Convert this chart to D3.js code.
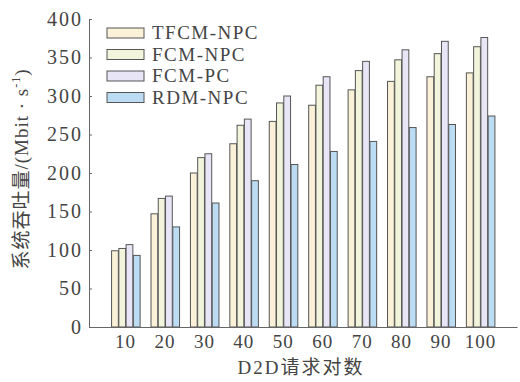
<!DOCTYPE html>
<html lang="zh">
<head>
<meta charset="UTF-8">
<title>系统吞吐量</title>
<style>
  body { margin: 0; background: #fff; }
  svg { display: block; }
  text { font-family: "Liberation Serif", "Noto Sans CJK SC", serif; fill: #444; }
  .cjk { font-family: "Noto Sans CJK SC", sans-serif; }
  .lat { font-family: "Liberation Serif", serif; }
</style>
</head>
<body>
<div id="chart"></div>
<script src="https://d3js.org/d3.v7.min.js"></script>
<script>
// data
const pairs = ["10", "20", "30", "40", "50", "60", "70", "80", "90", "100"];
const seriesNames = ["TFCM-NPC", "FCM-NPC", "FCM-PC", "RDM-NPC"];
const tfcmNpc = [99, 147, 200, 238, 267, 288, 308, 319, 325, 330];
const fcmNpc  = [102, 167, 220, 262, 291, 314, 333, 347, 355, 364];
const fcmPc   = [107, 170, 225, 270, 300, 325, 345, 360, 371, 376];
const rdmNpc  = [93, 130, 161, 190, 211, 228, 241, 259, 263, 274];
const yTicks = [0, 50, 100, 150, 200, 250, 300, 350, 400];

const colors = ["#fbf1d8", "#f2f5dc", "#e8e6f6", "#bcdcf4"];
const allSeries = [tfcmNpc, fcmNpc, fcmPc, rdmNpc];

const width = 520, height = 382;
const svg = d3.select("#chart").append("svg")
    .attr("width", width)
    .attr("height", height);

const x = d3.scaleBand().domain(pairs).range([89, 517])
    .paddingInner(0.263).paddingOuter(0.56);
const xs = d3.scaleBand().domain(d3.range(4)).range([0, x.bandwidth()]);
const y = d3.scaleLinear().domain([0, 400]).range([327, 19]);

// bars
const groups = svg.append("g").selectAll("g")
    .data(pairs)
    .enter().append("g")
    .attr("transform", d => `translate(${x(d)},0)`);

groups.selectAll("rect")
    .data((d, i) => allSeries.map((s, k) => ({k: k, v: s[i]})))
    .enter().append("rect")
    .attr("x", d => xs(d.k) + 0.5)
    .attr("y", d => y(d.v))
    .attr("width", xs.bandwidth() - 0.5)
    .attr("height", d => y(0) - y(d.v))
    .style("fill", d => colors[d.k])
    .style("stroke", "#555")
    .style("stroke-width", 1);

// y axis
const yAxis = d3.axisLeft(y).tickValues(yTicks).tickSize(-3).tickPadding(6);
const gy = svg.append("g").attr("transform", "translate(89,0)").call(yAxis);
gy.select(".domain").attr("stroke", "#666");
gy.selectAll(".tick line").attr("stroke", "#666");
gy.selectAll(".tick text")
    .style("font-size", "20px")
    .style("letter-spacing", "2px")
    .attr("fill", "#444");

// x axis
const xAxis = d3.axisBottom(x).tickSize(0).tickPadding(8);
const gx = svg.append("g").attr("transform", "translate(0,327)").call(xAxis);
gx.select(".domain").attr("stroke", "#666");
gx.selectAll(".tick text")
    .style("font-size", "19px")
    .style("letter-spacing", "1px")
    .attr("fill", "#444");

// axis titles (latin parts kept in the serif face)
svg.append("text")
    .attr("x", 301).attr("y", 374)
    .attr("text-anchor", "middle")
    .style("font-size", "19px")
    .style("letter-spacing", "2px")
    .html("<tspan class='lat'>D2D</tspan><tspan class='cjk'>请求对数</tspan>");

svg.append("text")
    .attr("transform", "translate(28,169) rotate(-90)")
    .attr("text-anchor", "middle")
    .style("font-size", "19px")
    .style("letter-spacing", "1px")
    .html("<tspan class='cjk'>系统吞吐量</tspan><tspan class='lat'>/(Mbit · s</tspan>" +
          "<tspan class='lat' dy='-8' font-size='12px'>-1</tspan><tspan class='lat' dy='8'>)</tspan>");

// legend
const legend = svg.append("g").selectAll("g")
    .data(seriesNames)
    .enter().append("g")
    .attr("transform", (d, i) => `translate(107,${28 + i * 21.5})`);

legend.append("rect")
    .attr("width", 37).attr("height", 10)
    .style("fill", (d, i) => colors[i])
    .style("stroke", "#555");

legend.append("text")
    .attr("x", 45).attr("y", 11)
    .style("font-size", "19px")
    .style("letter-spacing", "1.5px")
    .text(d => d);
</script>
</body>
</html>
